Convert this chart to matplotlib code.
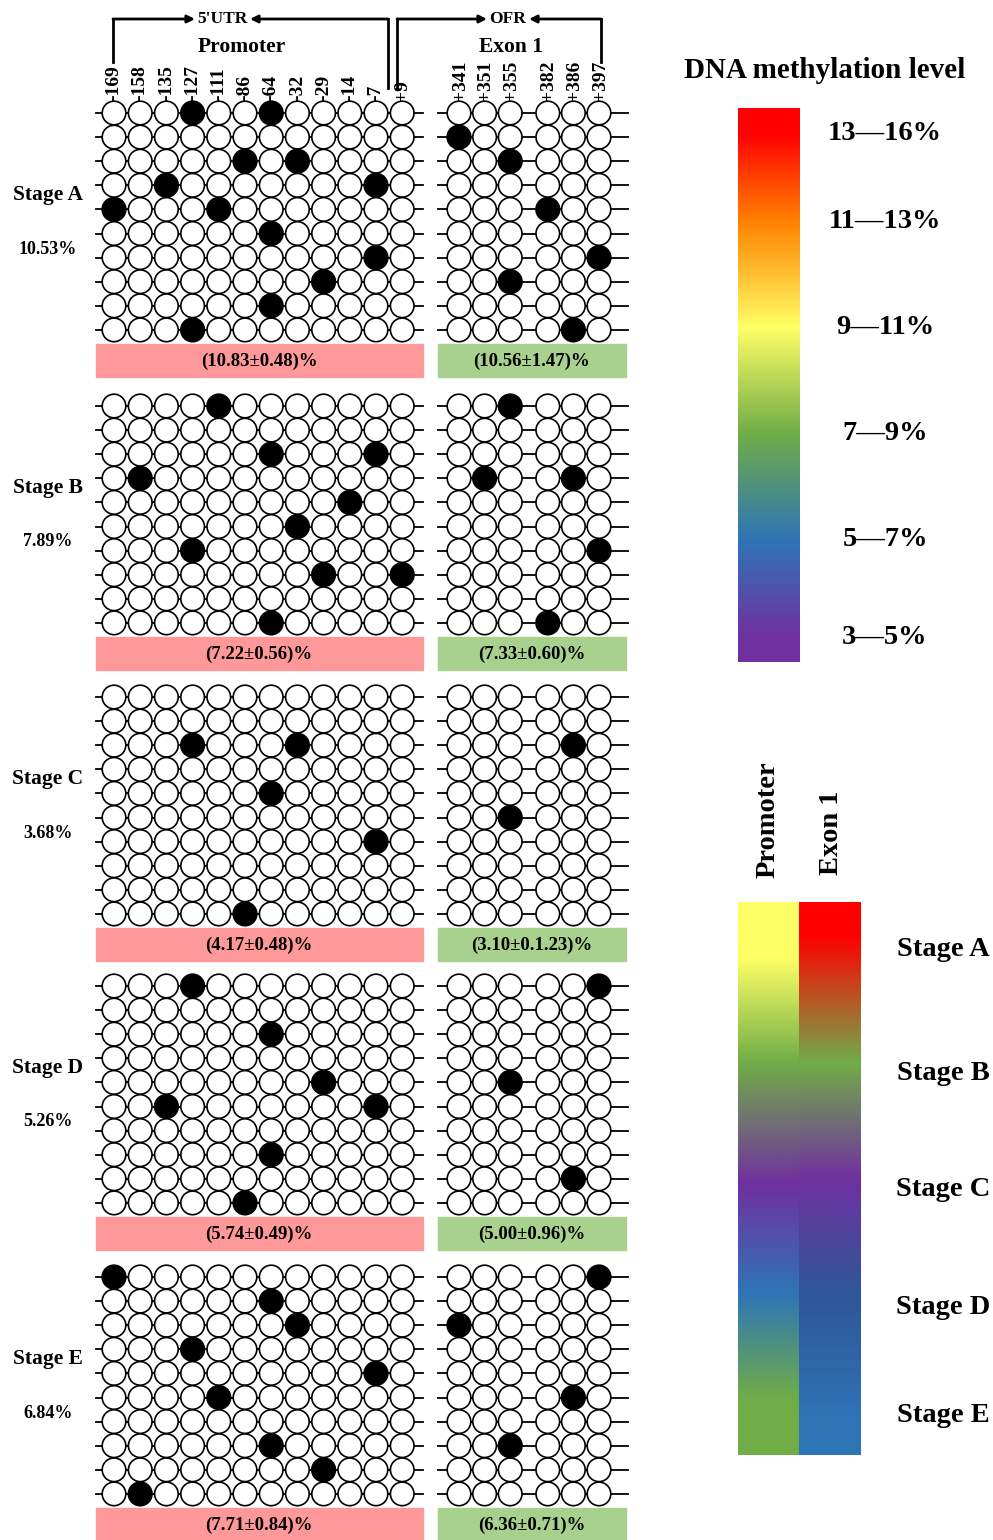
import matplotlib

matplotlib.use("Agg")
import matplotlib.pyplot as plt
import numpy as np
from matplotlib.colors import LinearSegmentedColormap
from matplotlib.patches import Circle, Rectangle
from matplotlib.collections import PatchCollection

plt.rcParams["font.family"] = ["Liberation Serif", "DejaVu Serif"]
plt.rcParams["font.weight"] = "bold"

# CpG sites
promoter_sites = ["-169", "-158", "-135", "-127", "-111", "-86", "-64", "-32", "-29", "-14", "-7", "+9"]
exon_sites = ["+341", "+351", "+355", "+382", "+386", "+397"]

stages = ["Stage A", "Stage B", "Stage C", "Stage D", "Stage E"]
stage_overall = ["10.53%", "7.89%", "3.68%", "5.26%", "6.84%"]
promoter_text = ["(10.83±0.48)%", "(7.22±0.56)%", "(4.17±0.48)%", "(5.74±0.49)%", "(7.71±0.84)%"]
exon_text = ["(10.56±1.47)%", "(7.33±0.60)%", "(3.10±0.1.23)%", "(5.00±0.96)%", "(6.36±0.71)%"]

# methylated (filled) site indices, one list per clone (10 clones)
promoter_A = [[3, 6], [], [5, 7], [2, 10], [0, 4], [6], [10], [8], [6], [3]]
exon_A = [[], [0], [2], [], [3], [], [5], [2], [], [4]]
promoter_B = [[4], [], [6, 10], [1], [9], [7], [3], [8, 11], [], [6]]
exon_B = [[2], [], [], [1, 4], [], [], [5], [], [], [3]]
promoter_C = [[], [], [3, 7], [], [6], [], [10], [], [], [5]]
exon_C = [[], [], [4], [], [], [2], [], [], [], []]
promoter_D = [[3], [], [6], [], [8], [2, 10], [], [6], [], [5]]
exon_D = [[5], [], [], [], [2], [], [], [], [4], []]
promoter_E = [[0], [6], [7], [3], [10], [4], [], [6], [8], [1]]
exon_E = [[5], [], [0], [], [], [4], [], [2], [], []]
promoter_clones = [promoter_A, promoter_B, promoter_C, promoter_D, promoter_E]
exon_clones = [exon_A, exon_B, exon_C, exon_D, exon_E]

# colour scale
level_labels = ["13—16%", "11—13%", "9—11%", "7—9%", "5—7%", "3—5%"]
level_colors = ["#FF0000", "#FF8200", "#FFFF66", "#70AD47", "#2E75B6", "#7030A0"]
promoter_stage_colors = ["#FFFF66", "#70AD47", "#7030A0", "#2E75B6", "#70AD47"]
exon_stage_colors = ["#FF0000", "#70AD47", "#7030A0", "#2F5597", "#2E75B6"]

# layout (pixels)
W, H = 993, 1540
stage_top = [113, 406, 697, 986, 1277]
row_step = 24.1
prom_x0, prom_dx = 114, 26.2
exon_x0, exon_dx, exon_gap = 459, 25.6, 12
radius = 11.8

fig = plt.figure(figsize=(W / 100, H / 100), dpi=100)
ax = fig.add_axes([0, 0, 1, 1])

prom_x = prom_x0 + prom_dx * np.arange(len(promoter_sites))
exon_x = exon_x0 + exon_dx * np.arange(len(exon_sites)) + exon_gap * (np.arange(len(exon_sites)) >= 3)

white, black = [], []
for s, top in enumerate(stage_top):
    for block, xs, (x_l, x_r) in [
        (promoter_clones[s], prom_x, (96, 423)),
        (exon_clones[s], exon_x, (438, 628)),
    ]:
        for r, filled in enumerate(block):
            y = top + r * row_step
            ax.plot([x_l, x_r], [y, y], color="black", lw=1.3, zorder=1)
            for c, x in enumerate(xs):
                (black if c in filled else white).append(Circle((x, y), radius))
    # summary bars
    ax.add_patch(Rectangle((96, top + 231), 327, 33, color="#FF9999", zorder=1))
    ax.add_patch(Rectangle((438, top + 231), 188, 33, color="#A9D18E", zorder=1))
    ax.text(259, top + 248, promoter_text[s], ha="center", va="center", fontsize=13.5)
    ax.text(532, top + 248, exon_text[s], ha="center", va="center", fontsize=13.5)
    ax.text(48, top + 82, stages[s], ha="center", va="center", fontsize=15.5)
    ax.text(48, top + 136, stage_overall[s], ha="center", va="center", fontsize=13)

ax.add_collection(PatchCollection(white, facecolor="white", edgecolor="black", lw=1.2, zorder=2))
ax.add_collection(PatchCollection(black, facecolor="black", edgecolor="black", lw=1.2, zorder=2))

# site labels
for x, lab in zip(prom_x, promoter_sites):
    ax.text(x, 101, lab, rotation=90, ha="center", va="bottom", fontsize=14)
for x, lab in zip(exon_x, exon_sites):
    ax.text(x + 1, 101, lab, rotation=90, ha="center", va="bottom", fontsize=14)

# header brackets
arrow_kw = dict(arrowstyle="-|>", lw=2, color="black", mutation_scale=11, shrinkA=0, shrinkB=0)
for x_v, y_bot, x_tip in [(113, 62, 195), (388, 88, 250), (397, 88, 487), (601, 62, 529)]:
    ax.plot([x_v, x_v], [y_bot, 19], color="black", lw=2, solid_capstyle="projecting")
    ax.annotate("", xy=(x_tip, 19), xytext=(x_v, 19), arrowprops=arrow_kw)
ax.text(222, 19, "5'UTR", ha="center", va="center", fontsize=12.5)
ax.text(508, 19, "OFR", ha="center", va="center", fontsize=12.5)
ax.text(242, 47, "Promoter", ha="center", va="center", fontsize=15.5)
ax.text(511, 47, "Exon 1", ha="center", va="center", fontsize=15.5)

# methylation level colour bar
bar_top, bar_bot = 108, 662
lab_y = np.array([133, 221, 327, 434, 540, 638])
stops = np.concatenate([[0], (lab_y - bar_top) / (bar_bot - bar_top), [1]])
cols = [level_colors[0]] + level_colors + [level_colors[-1]]
cmap = LinearSegmentedColormap.from_list("lvl", list(zip(stops, cols)))
grad = np.linspace(0, 1, 256)[:, None]
ax.imshow(grad, extent=[738, 800, bar_bot, bar_top], aspect="auto", cmap=cmap, zorder=1)
ax.text(825, 70, "DNA methylation level", ha="center", va="center", fontsize=21)
for y, lab in zip(lab_y, level_labels):
    ax.text(885, y, lab, ha="center", va="center", fontsize=20.5)

# stage colour bars
sb_top, sb_bot = 902, 1455
stage_y = np.array([950, 1074, 1190, 1307, 1415])
prom_stops = [0, 0.1, 0.29, 0.51, 0.71, 0.9, 1]
prom_cols = [promoter_stage_colors[0]] + promoter_stage_colors + [promoter_stage_colors[-1]]
exon_stops = [0, 0.06, 0.29, 0.5, 0.7, 0.95, 1]
exon_cols = [exon_stage_colors[0]] + exon_stage_colors + [exon_stage_colors[-1]]
for (x_l, x_r), st, cl in [((738, 799), prom_stops, prom_cols), ((799, 861), exon_stops, exon_cols)]:
    cm = LinearSegmentedColormap.from_list("st", list(zip(st, cl)))
    ax.imshow(grad, extent=[x_l, x_r, sb_bot, sb_top], aspect="auto", cmap=cm, zorder=1)
ax.text(768, 878, "Promoter", rotation=90, ha="center", va="bottom", fontsize=20.5)
ax.text(831, 875, "Exon 1", rotation=90, ha="center", va="bottom", fontsize=20.5)
for y, lab in zip(stage_y, stages):
    ax.text(943, y, lab, ha="center", va="center", fontsize=20.5)

ax.set_xlim(0, W)
ax.set_ylim(H, 0)
ax.axis("off")
fig.savefig("out.png", dpi=100)
